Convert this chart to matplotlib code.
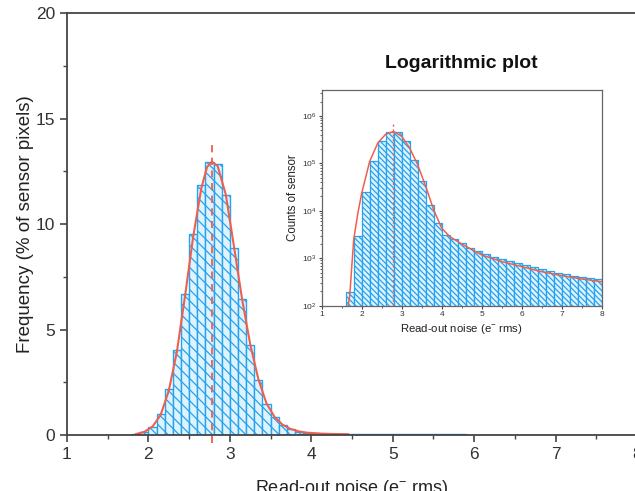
import numpy as np
import matplotlib
matplotlib.use("Agg")
import matplotlib.pyplot as plt
from matplotlib.ticker import MultipleLocator, LogLocator, NullFormatter

# main histogram: % of pixels per 0.1 e- bin, first bin starts at 1.6
main_start = 1.6
main_width = 0.1
main_freq = [
    0.01, 0.02, 0.05, 0.12, 0.39, 0.98, 2.18, 4.03, 6.67, 9.54,
    11.83, 12.92, 12.83, 11.36, 8.88, 6.43, 4.27, 2.61, 1.47, 0.84,
    0.46, 0.27, 0.15, 0.10, 0.08, 0.07, 0.06, 0.06, 0.05,
    0.05, 0.05, 0.04, 0.04, 0.04,
    0.04, 0.04, 0.03, 0.03, 0.03,
    0.03, 0.03, 0.03, 0.03, 0.02,
    0.02, 0.02, 0.02, 0.02, 0.02,
    0.02, 0.02, 0.02, 0.02, 0.02,
    0.02, 0.02, 0.02, 0.01, 0.01,
    0.01, 0.01, 0.01, 0.01, 0.01,
]

# fitted curve (main panel)
fit_x = [1.85, 1.95, 2.05, 2.15, 2.25, 2.35, 2.45, 2.55, 2.65, 2.72, 2.78, 2.85,
         2.95, 3.05, 3.15, 3.25, 3.35, 3.45, 3.55, 3.65, 3.75, 3.85, 3.95, 4.1,
         4.25, 4.45]
fit_y = [0.05, 0.15, 0.40, 0.95, 2.10, 3.95, 6.60, 9.40, 11.70, 12.70, 12.95, 12.75,
         11.40, 8.95, 6.45, 4.30, 2.65, 1.50, 0.85, 0.48, 0.28, 0.17, 0.11, 0.07,
         0.05, 0.04]

peak_x = 2.78

# inset histogram: counts per 0.2 e- bin, first bin starts at 1.6
log_start = 1.6
log_width = 0.2
log_counts = [
    190, 2900, 25000, 112000, 296000, 455000, 450000, 288000, 118000, 41500,
    13300, 5450, 3100, 2500, 2050, 1670, 1450, 1230, 1080, 950,
    875, 780, 710, 645, 595, 550, 500, 460, 425, 395,
    385, 360,
]

log_fit_x = [1.66, 1.7, 1.8, 1.9, 2.0, 2.2, 2.4, 2.6, 2.8, 3.0, 3.2, 3.4, 3.6, 3.8,
             4.0, 4.2, 4.5, 5.0, 5.5, 6.0, 6.5, 7.0, 7.5, 8.0]
log_fit_y = [100, 160, 2450, 8500, 23400, 110000, 265000, 410000, 467000, 370000,
             210000, 93000, 32600, 10400, 4300, 2860, 2000, 1170, 850, 665,
             520, 430, 365, 320]

plt.rcParams["font.family"] = ["Liberation Sans", "DejaVu Sans"]
plt.rcParams["mathtext.default"] = "regular"
plt.rcParams["hatch.linewidth"] = 0.9

BAR_FACE = "#def3fe"
BAR_EDGE = "#26a2ee"
RED = "#ef5f4e"
AXIS = "#444444"

fig = plt.figure(figsize=(6.35, 4.91), dpi=100)

# ---- main panel ----
ax = fig.add_axes([0.1055, 0.114, 0.8976, 0.8595])
lefts = main_start + main_width * np.arange(len(main_freq))
ax.bar(lefts, main_freq, width=main_width, align="edge", color=BAR_FACE,
       edgecolor=BAR_EDGE, linewidth=1.0, hatch="\\\\\\")
ax.plot(fit_x, fit_y, color=RED, linewidth=1.5)
ax.plot([peak_x, peak_x], [-0.4, 13.8], color=RED, linewidth=1.3,
        linestyle=(0, (4, 3)), clip_on=False)

ax.set_xlim(1, 8)
ax.set_ylim(0, 20)
ax.xaxis.set_major_locator(MultipleLocator(1))
ax.xaxis.set_minor_locator(MultipleLocator(0.5))
ax.yaxis.set_major_locator(MultipleLocator(5))
ax.yaxis.set_minor_locator(MultipleLocator(2.5))
ax.tick_params(which="major", direction="out", length=5, width=1.2,
               labelsize=12.5, colors=AXIS, labelcolor="#333333")
ax.tick_params(which="minor", direction="out", length=3, width=1.0, colors=AXIS)
for s in ax.spines.values():
    s.set_color(AXIS)
    s.set_linewidth(1.3)

ax.set_xlabel("Read-out noise (e$^{-}$ rms)", fontsize=13, color="#222222")
ax.xaxis.set_label_coords(0.5, -0.103)
ax.set_ylabel("Frequency (% of sensor pixels)", fontsize=13.5, color="#222222")
ax.yaxis.set_label_coords(-0.058, 0.5)

# ---- inset ----
axi = fig.add_axes([0.5066, 0.3774, 0.441, 0.4393])
lefts_i = log_start + log_width * np.arange(len(log_counts))
axi.bar(lefts_i, log_counts, width=log_width, align="edge", color=BAR_FACE,
        edgecolor=BAR_EDGE, linewidth=0.9, hatch="\\\\\\\\\\\\")
axi.plot(log_fit_x, log_fit_y, color=RED, linewidth=1.1)
axi.plot([peak_x, peak_x], [100, 7e5], color=RED, linewidth=1.0,
         linestyle=(0, (1.5, 2)))
axi.set_yscale("log")
axi.set_xlim(1, 8)
axi.set_ylim(100, 3.5e6)
axi.xaxis.set_major_locator(MultipleLocator(1))
axi.xaxis.set_minor_locator(MultipleLocator(0.5))
axi.yaxis.set_major_locator(LogLocator(base=10, numticks=10))
axi.yaxis.set_minor_locator(LogLocator(base=10, subs=np.arange(2, 10), numticks=10))
axi.yaxis.set_minor_formatter(NullFormatter())
axi.tick_params(which="major", direction="out", length=2.5, width=0.8,
                labelsize=6, colors=AXIS, labelcolor="#333333", pad=1.5)
axi.tick_params(which="minor", direction="out", length=1.5, width=0.6, colors=AXIS)
for s in axi.spines.values():
    s.set_color("#666666")
    s.set_linewidth(0.9)
axi.set_xlabel("Read-out noise (e$^{-}$ rms)", fontsize=8.2, color="#222222", labelpad=3)
axi.set_ylabel("Counts of sensor", fontsize=8.3, color="#222222", labelpad=2)
axi.set_title("Logarithmic plot", fontsize=14, fontweight="bold", pad=16,
              color="#111111")

fig.savefig("out.png", dpi=100)
